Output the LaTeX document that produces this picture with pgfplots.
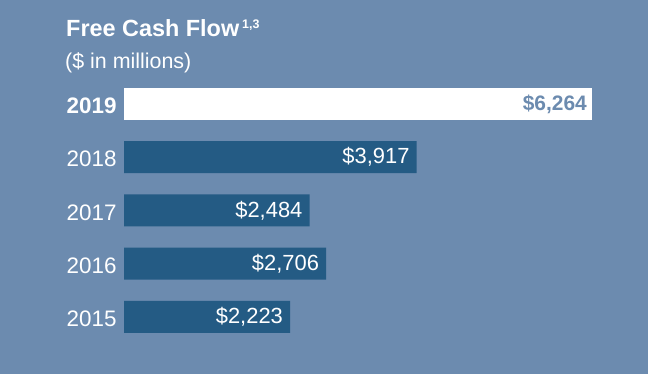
\documentclass[border=0pt]{standalone}
\usepackage{pgfplots}
\pgfplotsset{compat=1.18}
\usepackage{fontspec}
\setmainfont{Liberation Sans}
\definecolor{bg}{RGB}{108,139,175}
\definecolor{barc}{RGB}{36,91,132}
\begin{document}
\begin{tikzpicture}[x=1bp,y=1bp]
\fill[bg] (0,0) rectangle (648,374);
\node[anchor=base west,inner sep=0,text=white,font=\fontsize{23.5}{28}\selectfont\bfseries] at (66,338) {Free Cash Flow\hspace{3bp}\raisebox{8bp}{\fontsize{12.5}{14}\selectfont 1,3}};
\node[anchor=base west,inner sep=0,text=white,font=\fontsize{21.5}{25}\selectfont] at (65,306) {(\$ in millions)};
\begin{axis}[
  at={(124bp,30.4bp)}, anchor=south west,
  xbar, bar shift=0pt, bar width=32bp,
  width=468bp, height=266.25bp, scale only axis,
  xmin=0, xmax=6264, ymin=-0.5, ymax=4.5,
  axis line style={draw=none},
  major tick style={draw=none},
  xtick=\empty,
  clip=false,
  ytick={0,1,2,3,4},
  yticklabels={2015,2016,2017,2018,\textbf{2019}},
  y tick label style={font=\fontsize{22.5}{26}\selectfont, text=white, inner sep=0pt, anchor=east, xshift=-3bp, yshift=-2bp},
  nodes near coords,
  point meta=explicit symbolic,
  every node near coord/.append style={anchor=east, inner sep=0pt, xshift=-7bp, font=\fontsize{22}{26}\selectfont},
]
\addplot[fill=barc, draw=none, every node near coord/.append style={text=white}] coordinates {
 (2223,0) [\$2,223]
 (2706,1) [\$2,706]
 (2484,2) [\$2,484]
 (3917,3) [\$3,917]
};
\addplot[fill=white, draw=none, every node near coord/.append style={text=bg, font=\fontsize{21}{26}\selectfont\bfseries, xshift=2bp}] coordinates {
 (6264,4) [\$6,264]
};
\end{axis}
\end{tikzpicture}
\end{document}
